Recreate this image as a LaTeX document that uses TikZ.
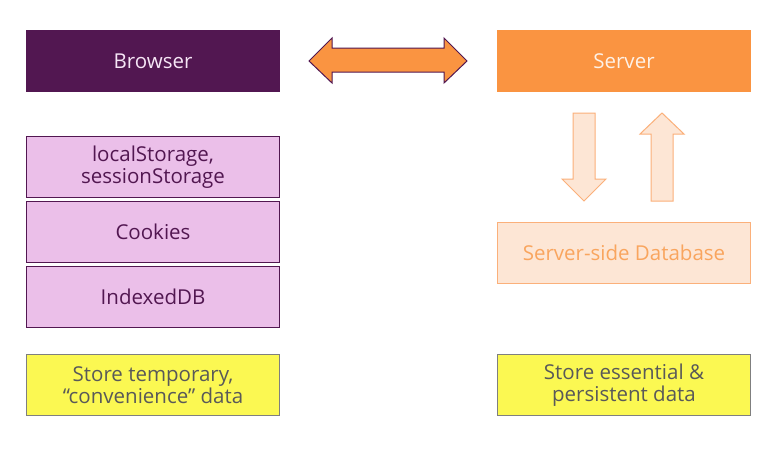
\documentclass[tikz,border=0pt]{standalone}
\usepackage{fontspec}
\setmainfont{Open Sans}
\begin{document}
\begin{tikzpicture}[x=1pt,y=-1pt,
  box/.style={draw,line width=1pt,minimum width=253pt,minimum height=61pt,inner sep=0pt,align=center,font=\fontsize{20.5}{22}\selectfont,anchor=north west},
  topbox/.style={box},
  pinkbox/.style={box,draw=purp,fill=pinkf,text=purp},
  yellowbox/.style={box,draw=ybord,fill=yfill,text=ytext},
  peachbox/.style={box,draw=pbord,fill=pfill,text=ptext},
  peacharrow/.style={draw=pbord,fill=pfill,line width=1pt,line join=miter},
]
\definecolor{purp}{HTML}{521751}
\definecolor{orng}{HTML}{FA9441}
\definecolor{pinkf}{HTML}{EBBFE9}
\definecolor{yfill}{HTML}{FBF852}
\definecolor{ybord}{HTML}{7F7F7F}
\definecolor{ytext}{HTML}{595959}
\definecolor{pfill}{HTML}{FDE6D5}
\definecolor{pbord}{HTML}{FBB07A}
\definecolor{ptext}{HTML}{F9A55E}
\definecolor{btext}{HTML}{F6E6F6}
\definecolor{stext}{HTML}{FEF1E6}
\useasboundingbox (0,0) rectangle (782,458);
\fill[white] (0,0) rectangle (782,458);

\node[topbox,fill=purp,draw=purp,text=btext] (browser) at (26,30) {Browser};
\node[topbox,fill=orng,draw=orng,text=stext] (server) at (497,30) {Server};

% double arrow
\draw[fill=orng,draw=purp,line width=1pt,line join=miter]
  (309,61) -- (332,38) -- (332,48) -- (444,48) -- (444,38) -- (467,61)
  -- (444,83) -- (444,72) -- (332,72) -- (332,83) -- cycle;

\node[pinkbox] (ls) at (26,136) {localStorage,\\sessionStorage};
\node[pinkbox] (ck) at (26,201) {Cookies};
\node[pinkbox] (idb) at (26,266) {IndexedDB};
\node[yellowbox] (ytemp) at (26,354) {Store temporary,\\“convenience” data};

% server <-> database arrows
\draw[peacharrow] (573,113) -- (595,113) -- (595,179) -- (606,179) -- (584,201)
  -- (562,179) -- (573,179) -- cycle;
\draw[peacharrow] (651,201) -- (673,201) -- (673,134) -- (684,134) -- (662,113)
  -- (640,134) -- (651,134) -- cycle;

\node[peachbox] (db) at (497,222) {Server-side Database};
\node[yellowbox] (yess) at (497,354) {Store essential \&\\persistent data};
\end{tikzpicture}
\end{document}
